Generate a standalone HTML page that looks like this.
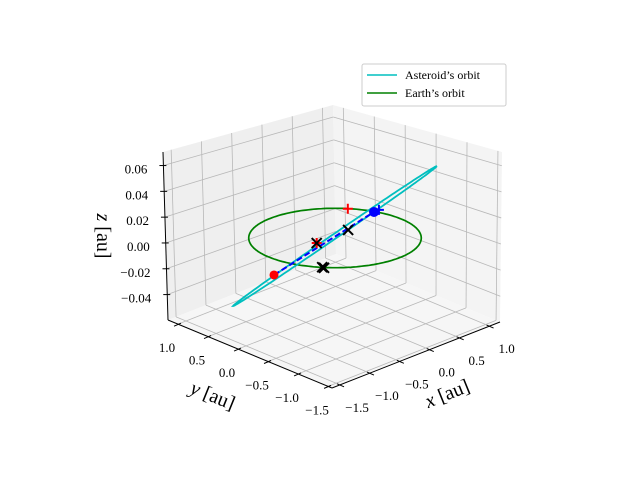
<!DOCTYPE html>
<html><head><meta charset="utf-8"><style>
html,body{margin:0;padding:0;background:#fff}
svg{display:block}
text{font-family:"Liberation Serif","DejaVu Serif",serif;fill:#000}
</style></head><body>
<svg id="chart" width="640" height="480" viewBox="0 0 640 480" xmlns="http://www.w3.org/2000/svg">
<g id="panes"></g>
<g id="grid"></g>
<g id="axes"></g>
<g id="ticklabels"></g>
<g id="series"></g>
<text x="447" y="400" font-size="20" text-anchor="middle" transform="rotate(-22 447 393)"><tspan font-style="italic">x</tspan> [au]</text>
<text x="213" y="402" font-size="20" text-anchor="middle" transform="rotate(22 213 395)"><tspan font-style="italic">y</tspan> [au]</text>
<text x="103" y="236" font-size="20" text-anchor="middle" transform="rotate(90 103 236) translate(0 6)"><tspan font-style="italic">z</tspan> [au]</text>
<g>
<rect x="362" y="64" width="144" height="42" rx="2" fill="#fff" stroke="#ccc" stroke-width="1"/>
<line x1="367" y1="75" x2="397" y2="75" stroke="#00bfbf" stroke-width="1.5"/>
<text x="405" y="79" font-size="12">Asteroid’s orbit</text>
<line x1="367" y1="93" x2="397" y2="93" stroke="#008000" stroke-width="1.5"/>
<text x="405" y="97" font-size="12">Earth’s orbit</text>
</g>
</svg>
<script>
const xTicks = [-1.5, -1.0, -0.5, 0.0, 0.5, 1.0];
const yTicks = [-1.5, -1.0, -0.5, 0.0, 0.5, 1.0];
const zTicks = [-0.04, -0.02, 0.00, 0.02, 0.04, 0.06];
const xTickLabels = ["−1.5","−1.0","−0.5","0.0","0.5","1.0"];
const yTickLabels = ["−1.5","−1.0","−0.5","0.0","0.5","1.0"];
const zTickLabels = ["−0.04","−0.02","0.00","0.02","0.04","0.06"];
const earthRadius = [1.0];
const asteroidMajor = [1.2, -0.47, 0.042];
const asteroidMinor = [0.1, 0.1, -0.001];
const asteroidCenter = [0, 0, 0.0015];
const startPoint = [-1.38, -0.38, 0];
const endPoint = [0.94, 0.30, 0];
const plusX = [0.80, -0.27, 1.03];
const plusY = [0.59, 0.03, 0.31];
const plusColor = ["red","red","blue"];
const crossX = [-0.27, 0.30, -0.80, -0.80];
const crossY = [0.03, 0.085, -0.59, -0.62];

const NS="http://www.w3.org/2000/svg";
function mk(tag, attrs, parent){const e=document.createElementNS(NS,tag);for(const k in attrs)e.setAttribute(k,attrs[k]);parent.appendChild(e);return e;}
const FRONT=[332,388], LEFT=[168,320], RIGHT=[500,322], BACK=[336,254];
const TL=[163,152], TB=[333,105], TR=[502,152];
const fx=v=>0.048+(v+1.5)*0.356, fy=v=>0.024+(v+1.5)*0.366;
const zmin=-0.0597, zmax=0.0705, fz=v=>(v-zmin)/(zmax-zmin);
const lerp=(a,b,t)=>[a[0]+(b[0]-a[0])*t,a[1]+(b[1]-a[1])*t];
const floorPt=(a,b)=>[FRONT[0]+a*(RIGHT[0]-FRONT[0])+b*(LEFT[0]-FRONT[0]),FRONT[1]+a*(RIGHT[1]-FRONT[1])+b*(LEFT[1]-FRONT[1])];
const leftWall=(a,c)=>lerp(lerp(LEFT,BACK,a),lerp(TL,TB,a),c);
const rightWall=(b,c)=>lerp(lerp(RIGHT,BACK,b),lerp(TR,TB,b),c);
const O=[335,238];
function P(x,y,z){return [O[0]+61*x-61*y, O[1]-21*x-21*y-1300*z];}

const panes=document.getElementById('panes');
let p;
p=mk('polygon',{points:[LEFT,BACK,TB,TL].map(q=>q.join(',')).join(' '),fill:'#efefef'},panes);

p=mk('polygon',{points:[BACK,RIGHT,TR,TB].map(q=>q.join(',')).join(' '),fill:'#f4f4f4'},panes);

p=mk('polygon',{points:[FRONT,RIGHT,BACK,LEFT].map(q=>q.join(',')).join(' '),fill:'#f6f6f6'},panes);


const grid=document.getElementById('grid');
function gl(a,b,name){const l=mk('line',{x1:a[0],y1:a[1],x2:b[0],y2:b[1],stroke:'#b8b8b8','stroke-width':0.8},grid);}
xTicks.forEach(v=>{const a=fx(v);gl(floorPt(a,0),floorPt(a,1),'x-grid-floor');gl(leftWall(a,0),leftWall(a,1),'x-grid-wall');});
yTicks.forEach(v=>{const b=fy(v);gl(floorPt(0,b),floorPt(1,b),'y-grid-floor');gl(rightWall(b,0),rightWall(b,1),'y-grid-wall');});
zTicks.forEach(v=>{const c=fz(v);gl(leftWall(0,c),leftWall(1,c),'z-grid-left');gl(rightWall(0,c),rightWall(1,c),'z-grid-right');});

const axes=document.getElementById('axes');
function al(a,b,name){const l=mk('line',{x1:a[0],y1:a[1],x2:b[0],y2:b[1],stroke:'#000','stroke-width':1},axes);}
al(FRONT,RIGHT,'x-axis-line');al(FRONT,LEFT,'y-axis-line');al(LEFT,TL,'z-axis-line');
const tl=document.getElementById('ticklabels');
function lab(pt,txt,anchor,name){const t=mk('text',{x:pt[0],y:pt[1],'font-size':13,'text-anchor':anchor},tl);t.textContent=txt;}
xTicks.forEach((v,i)=>{const q=floorPt(fx(v),0);al([q[0]-3,q[1]-1],[q[0]+4,q[1]+2],'x-tick');lab([q[0]+17,q[1]+27],xTickLabels[i],'middle','x-tick-label');});
yTicks.forEach((v,i)=>{const q=floorPt(0,fy(v));al([q[0]+3,q[1]-1],[q[0]-4,q[1]+2],'y-tick');lab([q[0]-11,q[1]+28],yTickLabels[i],'middle','y-tick-label');});
zTicks.forEach((v,i)=>{const q=leftWall(0,fz(v));al([q[0]+3,q[1]],[q[0]-4,q[1]],'z-tick');lab([q[0]-16,q[1]+8],zTickLabels[i],'end','z-tick-label');});

const ser=document.getElementById('series');
let pts=[];for(let i=0;i<=200;i++){const t=i/200*2*Math.PI;pts.push(P(earthRadius[0]*Math.cos(t),earthRadius[0]*Math.sin(t),0));}
p=mk('polyline',{points:pts.map(q=>q.map(n=>n.toFixed(1)).join(',')).join(' '),fill:'none',stroke:'#008000','stroke-width':1.7},ser);

pts=[];for(let i=0;i<=200;i++){const t=i/200*2*Math.PI,c=Math.cos(t),s=Math.sin(t);
pts.push(P(asteroidCenter[0]+asteroidMajor[0]*c+asteroidMinor[0]*s,asteroidCenter[1]+asteroidMajor[1]*c+asteroidMinor[1]*s,asteroidCenter[2]+asteroidMajor[2]*c+asteroidMinor[2]*s));}
p=mk('polyline',{points:pts.map(q=>q.map(n=>n.toFixed(1)).join(',')).join(' '),fill:'none',stroke:'#00bfbf','stroke-width':1.8},ser);

const a=P(...startPoint),b=P(...endPoint);
p=mk('line',{x1:a[0],y1:a[1],x2:b[0],y2:b[1],stroke:'blue','stroke-width':2,'stroke-dasharray':'6,3'},ser);

p=mk('circle',{cx:a[0],cy:a[1],r:4.5,fill:'red'},ser);

p=mk('circle',{cx:b[0],cy:b[1],r:5,fill:'blue'},ser);

plusX.forEach((x,i)=>{const q=P(x,plusY[i],0);
const g=mk('path',{d:`M${q[0]-5},${q[1]}h10M${q[0]},${q[1]-5}v10`,stroke:plusColor[i],'stroke-width':2,fill:'none'},ser);
});
crossX.forEach((x,i)=>{const q=P(x,crossY[i],0);
const g=mk('path',{d:`M${q[0]-5},${q[1]-5}l10,10M${q[0]-5},${q[1]+5}l10,-10`,stroke:'#000','stroke-width':2,fill:'none'},ser);
});
</script>
</body></html>
